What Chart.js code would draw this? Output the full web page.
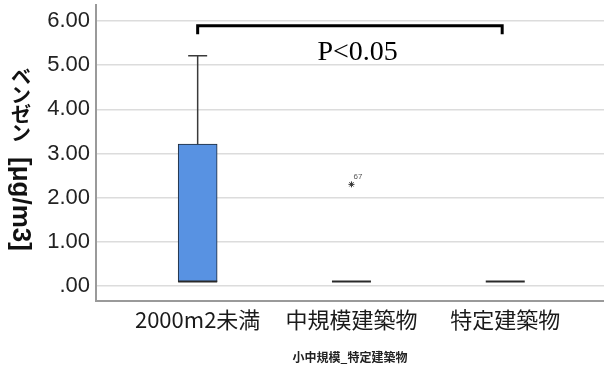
<!DOCTYPE html>
<html><head><meta charset="utf-8">
<script src="https://cdn.jsdelivr.net/npm/chart.js@4.4.1/dist/chart.umd.min.js"></script>
<style>html,body{margin:0;padding:0;background:#fff;}canvas{display:block;}</style>
</head><body>
<canvas id="c" width="604" height="365"></canvas>
<script>
// Benzene concentration by building category (box plot summary)
const categories = ['2000m2未満', '中規模建築物', '特定建築物'];
const whiskerLow = [0.10, 0.10, 0.10];
const boxQ1 = [0.10, 0.10, 0.10];
const boxMedian = [0.10, 0.10, 0.10];
const boxQ3 = [3.21, 0.10, 0.10];
const whiskerHigh = [5.21, 0.10, 0.10];
const outlierCategory = [2];
const outlierValue = [2.30];
const outlierCase = ['67'];
const yTickValues = [0, 1, 2, 3, 4, 5, 6];
const yTitleJa = 'ベンゼン';
const yTitleUnit = '[μg/m3]';
const xTitle = '小中規模_特定建築物';
// significance bracket between the first and last group
const sigFrom = 1, sigTo = 2.98, sigLevel = 5.89, sigDrop = 5.70;
const sigText = 'P<0.05';
const sigTextLevel = 5.11, sigTextPos = 2.04;

const CJK = '"Noto Sans CJK JP", "Noto Sans", sans-serif';
const SANS = '"Liberation Sans", Arial, sans-serif';
const SERIF = '"Liberation Serif", "Times New Roman", serif';

const boxData = [];
categories.forEach((c, i) => {
  if (boxQ3[i] > boxQ1[i]) boxData.push({ x: i + 1, y: [boxQ1[i], boxQ3[i]] });
});
const outlierData = outlierCategory.map((c, i) => ({ x: c, y: outlierValue[i] }));

const boxPlotExtras = {
  id: 'boxPlotExtras',
  afterDatasetsDraw(chart) {
    const { ctx, scales: { x, y } } = chart;
    const half = 19.5;
    ctx.save();
    // whiskers
    ctx.strokeStyle = '#3a3a3a';
    ctx.lineWidth = 1.5;
    categories.forEach((c, i) => {
      const cx = x.getPixelForValue(i + 1);
      if (whiskerHigh[i] > boxQ3[i]) {
        const t = y.getPixelForValue(whiskerHigh[i]);
        const b = y.getPixelForValue(boxQ3[i]);
        ctx.beginPath();
        ctx.moveTo(cx, b); ctx.lineTo(cx, t);
        ctx.moveTo(cx - 9.5, t); ctx.lineTo(cx + 9.5, t);
        ctx.stroke();
      }
      if (whiskerLow[i] < boxQ1[i]) {
        const t = y.getPixelForValue(boxQ1[i]);
        const b = y.getPixelForValue(whiskerLow[i]);
        ctx.beginPath();
        ctx.moveTo(cx, t); ctx.lineTo(cx, b);
        ctx.moveTo(cx - 9.5, b); ctx.lineTo(cx + 9.5, b);
        ctx.stroke();
      }
    });
    // medians
    ctx.strokeStyle = '#2a2a2a';
    ctx.lineWidth = 2;
    categories.forEach((c, i) => {
      const cx = x.getPixelForValue(i + 1);
      const my = y.getPixelForValue(boxMedian[i]);
      ctx.beginPath();
      ctx.moveTo(cx - half, my); ctx.lineTo(cx + half, my);
      ctx.stroke();
    });
    // outlier case numbers
    ctx.fillStyle = '#555';
    ctx.font = '8px ' + SANS;
    ctx.textAlign = 'left';
    ctx.textBaseline = 'alphabetic';
    outlierCategory.forEach((c, i) => {
      ctx.fillText(outlierCase[i], x.getPixelForValue(c) + 2, y.getPixelForValue(outlierValue[i]) - 5);
    });
    // significance bracket
    const x1 = x.getPixelForValue(sigFrom), x2 = x.getPixelForValue(sigTo);
    const yb = y.getPixelForValue(sigLevel), yd = y.getPixelForValue(sigDrop);
    ctx.strokeStyle = '#000';
    ctx.lineWidth = 3;
    ctx.lineJoin = 'miter';
    ctx.beginPath();
    ctx.moveTo(x1, yd); ctx.lineTo(x1, yb); ctx.lineTo(x2, yb); ctx.lineTo(x2, yd);
    ctx.stroke();
    ctx.fillStyle = '#000';
    ctx.font = '28px ' + SERIF;
    ctx.textAlign = 'center';
    ctx.fillText(sigText, x.getPixelForValue(sigTextPos), y.getPixelForValue(sigTextLevel));
    ctx.restore();
  },
  afterDraw(chart) {
    // vertical axis title: upright kana, then the unit turned clockwise
    const { ctx } = chart;
    const cx = 21;
    ctx.save();
    ctx.fillStyle = '#111';
    const step = 19;
    const gap = 14;
    let yy = 67;
    ctx.font = 'bold 20px ' + CJK;
    ctx.textAlign = 'center';
    ctx.textBaseline = 'middle';
    for (const ch of yTitleJa) {
      ctx.fillText(ch, cx, yy + step / 2);
      yy += step;
    }
    yy += gap;
    ctx.translate(cx - 1, yy);
    ctx.rotate(Math.PI / 2);
    ctx.font = 'bold 26px ' + SANS;
    ctx.textAlign = 'left';
    ctx.fillText(yTitleUnit, 0, 0);
    ctx.restore();
  }
};

new Chart(document.getElementById('c'), {
  type: 'bar',
  data: {
    datasets: [
      {
        type: 'bar',
        data: boxData,
        backgroundColor: '#5892e2',
        borderColor: '#1d2836',
        borderWidth: 1,
        borderSkipped: false,
        barThickness: 39
      },
      {
        type: 'scatter',
        data: outlierData,
        pointStyle: 'star',
        radius: 3,
        borderColor: '#333',
        borderWidth: 1
      }
    ]
  },
  options: {
    responsive: false,
    animation: false,
    devicePixelRatio: 1,
    layout: { autoPadding: false, padding: { top: 5, right: 0, bottom: 0, left: 0 } },
    plugins: { legend: { display: false }, tooltip: { enabled: false } },
    scales: {
      x: {
        type: 'linear',
        offset: false,
        min: 0.339,
        max: 3.642,
        grid: { display: false, drawTicks: false },
        border: { display: true, color: '#9a9a9a', width: 2 },
        afterBuildTicks: s => { s.ticks = categories.map((c, i) => ({ value: i + 1 })); },
        ticks: {
          callback: v => categories[Math.round(v) - 1] || '',
          font: { family: CJK, size: 22 },
          color: '#1a1a1a',
          padding: 5,
          autoSkip: false,
          maxRotation: 0
        },
        title: {
          display: true,
          text: xTitle,
          font: { family: CJK, size: 12, weight: 'bold' },
          color: '#222',
          padding: { top: 0, bottom: 0 }
        },
        afterFit: s => { s.height = 64; s.paddingLeft = 0; s.paddingRight = 0; }
      },
      y: {
        min: -0.34,
        max: 6.36,
        afterBuildTicks: s => { s.ticks = yTickValues.map(v => ({ value: v })); },
        ticks: {
          callback: v => (v === 0 ? '.00' : v.toFixed(2)),
          font: { family: SANS, size: 22 },
          color: '#222',
          padding: 6
        },
        grid: { color: '#dcdcdc', lineWidth: 1.5, drawTicks: false },
        border: { color: '#9a9a9a', width: 2 },
        afterFit: s => { s.width = 96; s.paddingTop = 0; s.paddingBottom = 0; }
      }
    }
  },
  plugins: [boxPlotExtras]
});
</script>
</body></html>
